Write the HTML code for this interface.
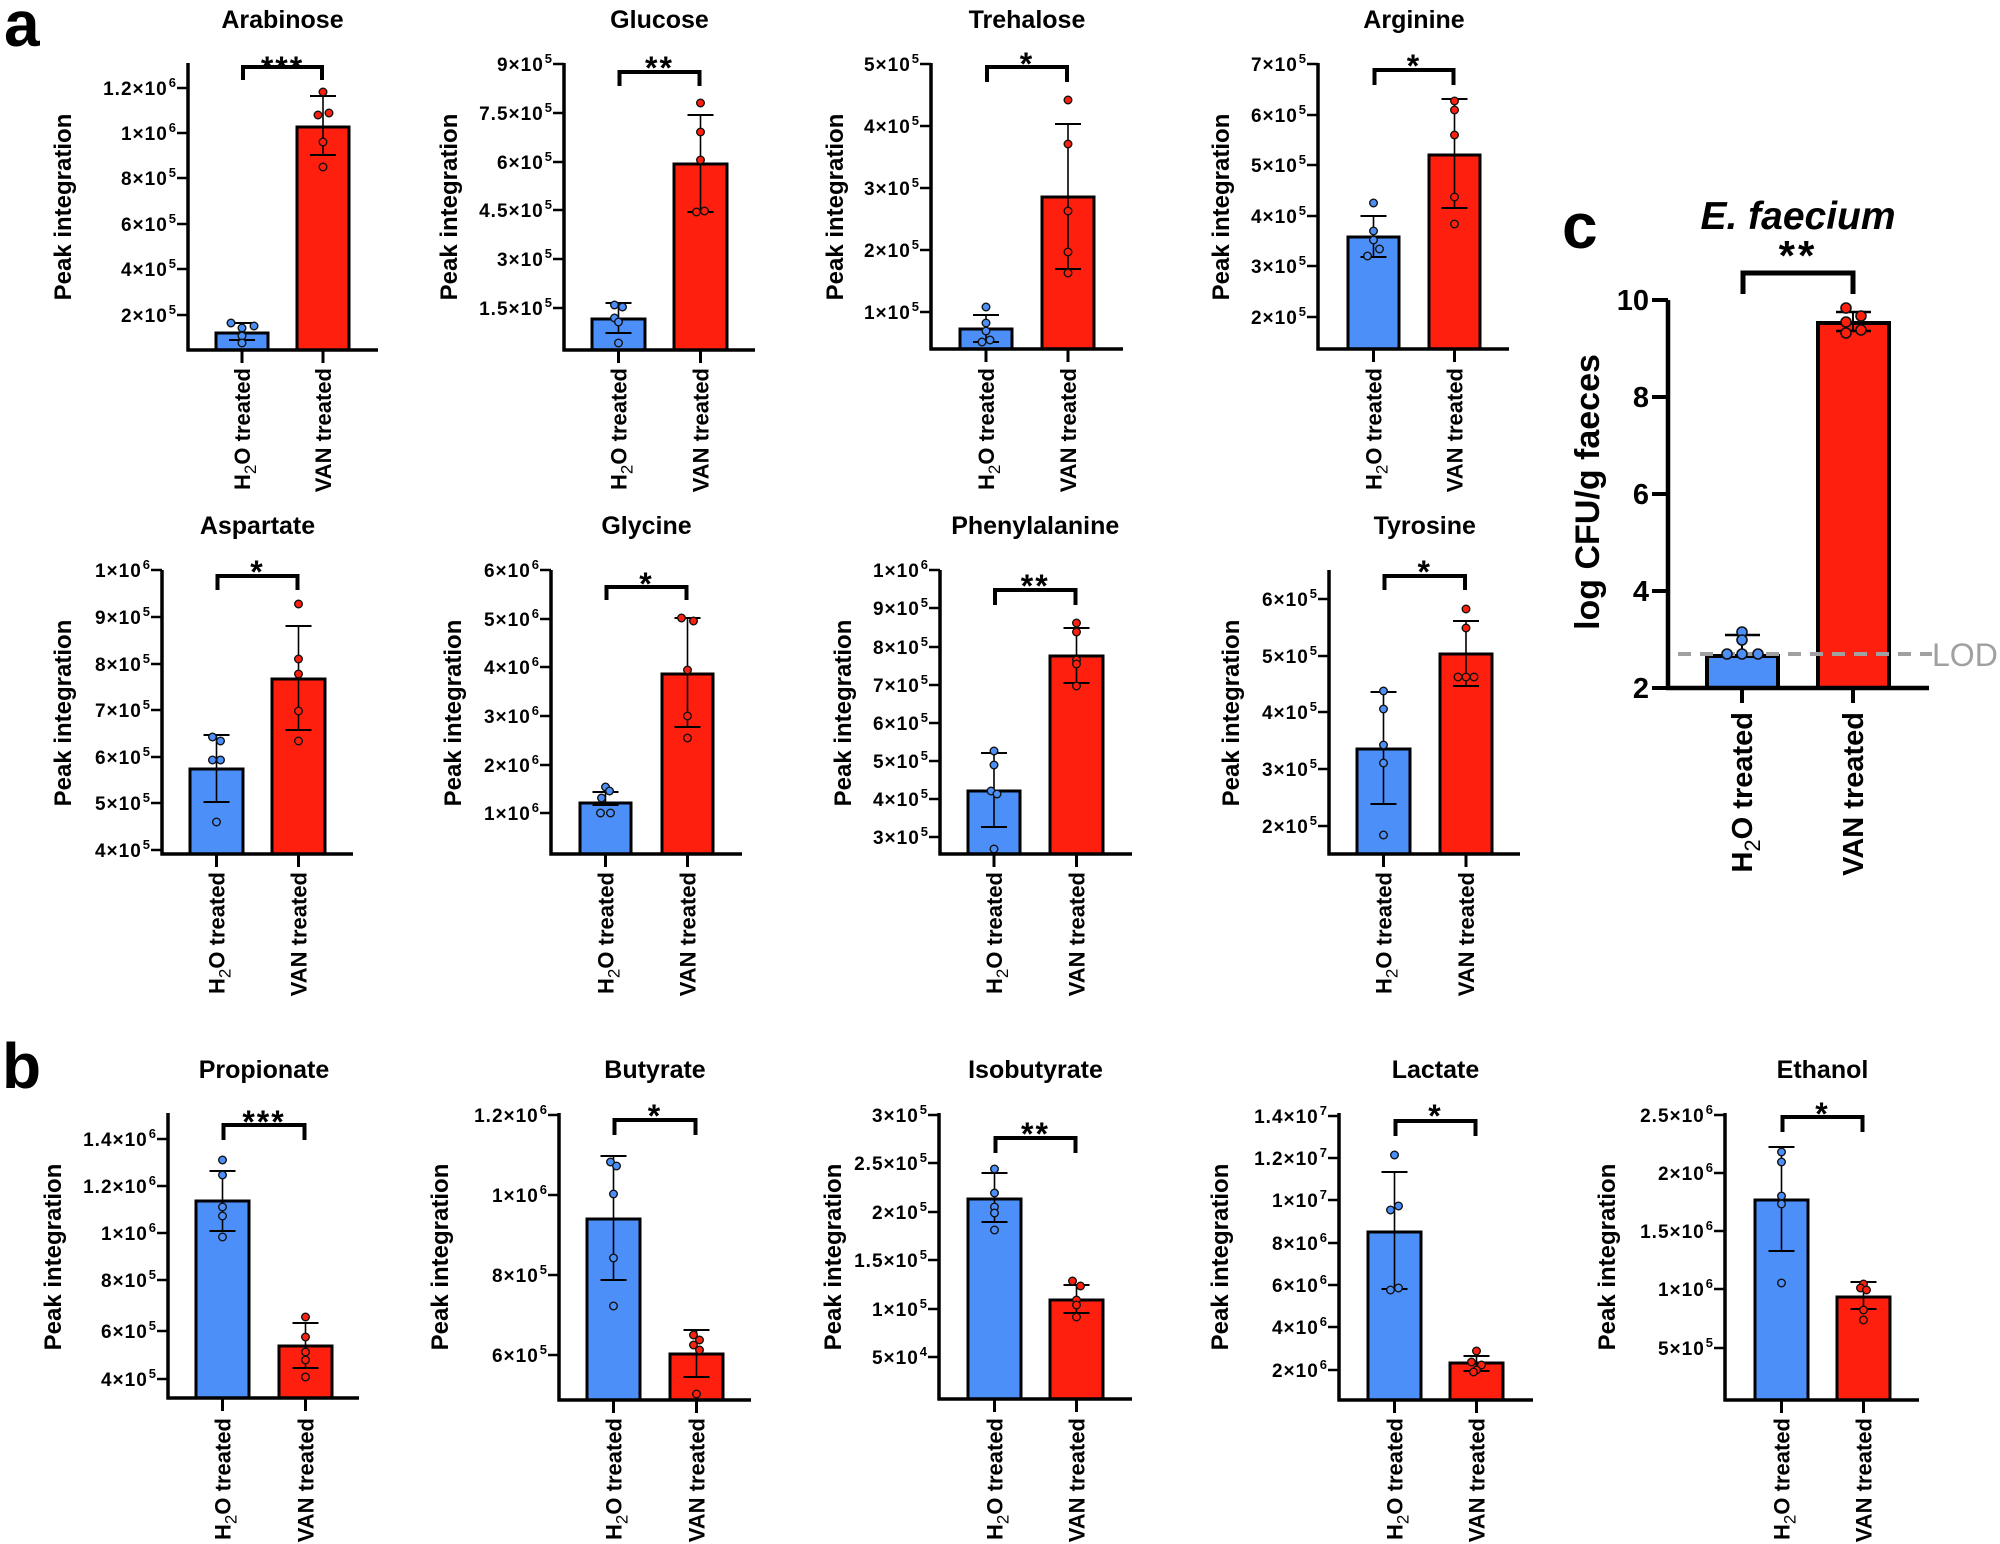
<!DOCTYPE html>
<html><head><meta charset="utf-8">
<style>
html,body{margin:0;padding:0;background:#fff;}
svg{display:block;}
text{font-family:"Liberation Sans",Arial,sans-serif;font-weight:bold;fill:#000;}
</style></head>
<body>
<svg id="s" xmlns="http://www.w3.org/2000/svg" width="2000" height="1544" viewBox="0 0 2000 1544">
<rect width="2000" height="1544" fill="#fff"/>
<text x="4" y="46" font-size="64">a</text>
<text x="2" y="1088" font-size="64">b</text>
<text x="1562" y="248" font-size="64">c</text>
</svg>
<script>
var S=document.getElementById('s'),NS='http://www.w3.org/2000/svg';
function el(t,a,txt){var e=document.createElementNS(NS,t);for(var k in a)e.setAttribute(k,a[k]);if(txt!=null)e.textContent=txt;S.appendChild(e);return e;}
var BLUE='#4d8ff8',RED='#ff1f0f';
var P=[
{t:'Arabinose',s:'***',ax:188,top:63,base:350,end:378,ty:28,sy:62,br:[67,80],ylx:62,yly:207,lt:368,
 tk:[[88,'1.2','6'],[133,'1','6'],[178,'8','5'],[224,'6','5'],[269,'4','5'],[315,'2','5']],
 b:[[216,268,333,323,340,[[-11,323],[12,326],[0,328],[0,336],[0,343]]],[297,349,127,96,155,[[0,92],[-5,115],[6,113],[0,142],[0,167]]]]},
{t:'Glucose',s:'**',ax:564,top:63,base:350,end:755,ty:28,sy:62,br:[72,86],ylx:448,yly:207,lt:368,
 tk:[[64,'9','5'],[113,'7.5','5'],[162,'6','5'],[210,'4.5','5'],[259,'3','5'],[308,'1.5','5']],
 b:[[592,645,319,303,333,[[-4,305],[4,307],[-4,318],[0,322],[0,343]]],[674,727,164,115,212,[[0,103],[0,132],[0,160],[-4,212],[4,211]]]]},
{t:'Trehalose',s:'*',ax:931,top:63,base:349,end:1123,ty:28,sy:58,br:[67,82],ylx:834,yly:207,lt:368,
 tk:[[64,'5','5'],[126,'4','5'],[188,'3','5'],[250,'2','5'],[312,'1','5']],
 b:[[960,1012,329,315,342,[[0,307],[0,323],[0,331],[-4,342],[4,340]]],[1042,1094,197,124,269,[[0,100],[0,144],[0,211],[0,252],[0,273]]]]},
{t:'Arginine',s:'*',ax:1318,top:63,base:349,end:1509,ty:28,sy:60,br:[70,85],ylx:1220,yly:207,lt:368,
 tk:[[64,'7','5'],[115,'6','5'],[165,'5','5'],[216,'4','5'],[266,'3','5'],[317,'2','5']],
 b:[[1348,1399,237,216,257,[[0,203],[0,231],[0,240],[-6,256],[6,249]]],[1429,1480,155,99,208,[[0,101],[0,110],[0,135],[0,197],[0,224]]]]},
{t:'Aspartate',s:'*',ax:162,top:570,base:854,end:353,ty:534,sy:566,br:[576,590],ylx:62,yly:713,lt:872,
 tk:[[570,'1','6'],[617,'9','5'],[664,'8','5'],[710,'7','5'],[757,'6','5'],[803,'5','5'],[850,'4','5']],
 b:[[190,243,769,735,802,[[-4,737],[4,741],[-4,760],[4,760],[0,822]]],[272,325,679,626,730,[[0,604],[0,659],[0,674],[0,711],[0,741]]]]},
{t:'Glycine',s:'*',ax:551,top:570,base:854,end:742,ty:534,sy:578,br:[587,600],ylx:452,yly:713,lt:872,
 tk:[[570,'6','6'],[619,'5','6'],[667,'4','6'],[716,'3','6'],[765,'2','6'],[813,'1','6']],
 b:[[580,631,803,792,805,[[0,787],[4,791],[-4,798],[-5,813],[5,813]]],[662,713,674,618,727,[[-6,618],[6,621],[0,670],[0,716],[0,738]]]]},
{t:'Phenylalanine',s:'**',ax:940,top:570,base:854,end:1132,ty:534,sy:580,br:[590,605],ylx:842,yly:713,lt:872,
 tk:[[570,'1','6'],[608,'9','5'],[647,'8','5'],[685,'7','5'],[723,'6','5'],[761,'5','5'],[799,'4','5'],[837,'3','5']],
 b:[[968,1020,791,753,827,[[0,751],[0,765],[-3,791],[3,794],[0,849]]],[1050,1103,656,628,683,[[0,623],[0,632],[0,660],[0,664],[0,686]]]]},
{t:'Tyrosine',s:'*',ax:1329,top:570,base:854,end:1520,ty:534,sy:566,br:[576,590],ylx:1230,yly:713,lt:872,
 tk:[[599,'6','5'],[656,'5','5'],[712,'4','5'],[769,'3','5'],[826,'2','5']],
 b:[[1357,1410,749,692,804,[[0,691],[0,709],[0,745],[0,763],[0,835]]],[1440,1492,654,621,686,[[0,609],[0,628],[-8,677],[0,677],[8,677]]]]},
{t:'Propionate',s:'***',ax:168,top:1113,base:1398,end:359,ty:1078,sy:1116,br:[1125,1140],ylx:52,yly:1257,lt:1418,
 tk:[[1139,'1.4','6'],[1186,'1.2','6'],[1233,'1','6'],[1280,'8','5'],[1331,'6','5'],[1379,'4','5']],
 b:[[196,249,1201,1171,1231,[[0,1160],[0,1175],[0,1207],[0,1216],[0,1237]]],[279,332,1346,1323,1368,[[0,1317],[0,1337],[0,1352],[0,1360],[0,1377]]]]},
{t:'Butyrate',s:'*',ax:559,top:1113,base:1400,end:751,ty:1078,sy:1110,br:[1120,1135],ylx:439,yly:1257,lt:1418,
 tk:[[1115,'1.2','6'],[1195,'1','6'],[1275,'8','5'],[1355,'6','5']],
 b:[[587,640,1219,1156,1280,[[-3,1162],[3,1166],[0,1194],[0,1258],[0,1306]]],[670,723,1354,1330,1377,[[-3,1335],[3,1340],[-3,1345],[3,1350],[0,1394]]]]},
{t:'Isobutyrate',s:'**',ax:939,top:1113,base:1399,end:1132,ty:1078,sy:1128,br:[1138,1153],ylx:832,yly:1257,lt:1418,
 tk:[[1115,'3','5'],[1163,'2.5','5'],[1212,'2','5'],[1260,'1.5','5'],[1309,'1','5'],[1357,'5','4']],
 b:[[968,1021,1199,1173,1222,[[0,1169],[0,1193],[0,1207],[0,1213],[0,1230]]],[1050,1103,1300,1285,1313,[[-4,1281],[4,1286],[0,1300],[0,1305],[0,1317]]]]},
{t:'Lactate',s:'*',ax:1339,top:1113,base:1400,end:1533,ty:1078,sy:1110,br:[1121,1136],ylx:1219,yly:1257,lt:1418,
 tk:[[1116,'1.4','7'],[1158,'1.2','7'],[1200,'1','7'],[1243,'8','6'],[1285,'6','6'],[1327,'4','6'],[1370,'2','6']],
 b:[[1368,1421,1232,1172,1289,[[0,1155],[-4,1210],[4,1206],[-4,1290],[4,1288]]],[1450,1503,1363,1356,1371,[[0,1351],[-5,1362],[5,1365],[0,1370],[-3,1372]]]]},
{t:'Ethanol',s:'*',ax:1725,top:1113,base:1400,end:1919,ty:1078,sy:1108,br:[1117,1132],ylx:1606,yly:1257,lt:1418,
 tk:[[1115,'2.5','6'],[1173,'2','6'],[1231,'1.5','6'],[1289,'1','6'],[1348,'5','5']],
 b:[[1755,1808,1200,1147,1251,[[0,1152],[0,1162],[0,1196],[0,1204],[0,1283]]],[1837,1890,1297,1282,1309,[[0,1284],[-3,1288],[3,1290],[0,1310],[0,1320]]]]}
];
P.forEach(function(p){
  var c0=(p.b[0][0]+p.b[0][1])/2,c1=(p.b[1][0]+p.b[1][1])/2,mid=(c0+c1)/2;
  el('text',{x:mid,y:p.ty,'font-size':25,'text-anchor':'middle'},p.t);
  el('text',{x:mid,y:p.sy+17,'font-size':32,'text-anchor':'middle','letter-spacing':'2'},p.s);
  el('path',{d:'M'+(c0+1)+' '+p.br[1]+'V'+p.br[0]+'H'+(c1-1)+'V'+p.br[1],fill:'none',stroke:'#000','stroke-width':4});
  el('text',{transform:'translate('+(p.ylx+9)+','+p.yly+') rotate(-90)','font-size':24,'text-anchor':'middle'},'Peak integration');
  p.tk.forEach(function(t){
    el('line',{x1:p.ax-11,x2:p.ax,y1:t[0],y2:t[0],stroke:'#000','stroke-width':2.5});
    var tx=el('text',{x:p.ax-11,y:t[0]+7,'font-size':19,'text-anchor':'end','letter-spacing':'1'});
    tx.innerHTML=t[1]+'×10<tspan dx="1" dy="-8" font-size="13">'+t[2]+'</tspan>';
  });
  p.b.forEach(function(b,i){
    var c=(b[0]+b[1])/2,col=i?RED:BLUE;
    el('rect',{x:b[0],y:b[2],width:b[1]-b[0],height:p.base-b[2],fill:col,stroke:'#000','stroke-width':3});
    el('line',{x1:c,x2:c,y1:b[3],y2:b[4],stroke:'#000','stroke-width':1.6});
    el('line',{x1:c-13,x2:c+13,y1:b[3],y2:b[3],stroke:'#000','stroke-width':2});
    el('line',{x1:c-13,x2:c+13,y1:b[4],y2:b[4],stroke:'#000','stroke-width':2});
    b[5].forEach(function(q){el('circle',{cx:c+q[0],cy:q[1],r:3.8,fill:col,stroke:'#111','stroke-width':1.4});});
    el('line',{x1:c,x2:c,y1:p.base,y2:p.base+13,stroke:'#000','stroke-width':3});
    var lb=el('text',{transform:'translate('+(c+8)+','+p.lt+') rotate(-90)','font-size':22,'text-anchor':'end'});
    lb.innerHTML=i?'VAN treated':'H<tspan dy="6" font-size="17" font-weight="normal">2</tspan><tspan dy="-6">O treated</tspan>';
  });
  el('line',{x1:p.ax,x2:p.ax,y1:p.top,y2:p.base+1.5,stroke:'#000','stroke-width':3.5});
  el('line',{x1:p.ax-1.5,x2:p.end,y1:p.base,y2:p.base,stroke:'#000','stroke-width':3.5});
});
// Panel c
(function(){
  var ax=1668,base=688;
  el('text',{x:1798,y:229,'font-size':39,'text-anchor':'middle','font-style':'italic'},'E. faecium');
  el('text',{x:1798,y:270,'font-size':42,'text-anchor':'middle','letter-spacing':'3'},'**');
  el('path',{d:'M1743 294V273H1853V294',fill:'none',stroke:'#000','stroke-width':5});
  el('text',{transform:'translate(1599,492) rotate(-90)','font-size':34,'text-anchor':'middle'},'log CFU/g faeces');
  [[300,'10'],[397,'8'],[494,'6'],[591,'4'],[688,'2']].forEach(function(t){
    el('line',{x1:ax-16,x2:ax,y1:t[0],y2:t[0],stroke:'#000','stroke-width':4});
    el('text',{x:ax-19,y:t[0]+10,'font-size':29,'text-anchor':'end'},t[1]);
  });
  el('rect',{x:1707,y:656,width:71,height:base-656,fill:BLUE,stroke:'#000','stroke-width':4});
  el('rect',{x:1818,y:323,width:71,height:base-323,fill:RED,stroke:'#000','stroke-width':4});
  el('line',{x1:1678,x2:1932,y1:654,y2:654,stroke:'#a0a0a0','stroke-width':4,'stroke-dasharray':'13 9'});
  el('text',{x:1932,y:666,'font-size':32,style:'font-weight:normal;fill:#a0a0a0'},'LOD');
  el('line',{x1:1742,x2:1742,y1:635,y2:656,stroke:'#000','stroke-width':2});
  el('line',{x1:1725,x2:1760,y1:635,y2:635,stroke:'#000','stroke-width':2.5});
  [[1742,632],[1742,640],[1727,654],[1742,654],[1758,654]].forEach(function(q){el('circle',{cx:q[0],cy:q[1],r:5,fill:BLUE,stroke:'#111','stroke-width':1.6});});
  el('line',{x1:1853,x2:1853,y1:312,y2:331,stroke:'#000','stroke-width':2});
  el('line',{x1:1836,x2:1871,y1:312,y2:312,stroke:'#000','stroke-width':2.5});
  el('line',{x1:1836,x2:1871,y1:331,y2:331,stroke:'#000','stroke-width':2.5});
  [[1846,308],[1861,316],[1846,322],[1846,333],[1861,330]].forEach(function(q){el('circle',{cx:q[0],cy:q[1],r:5,fill:RED,stroke:'#111','stroke-width':1.6});});
  el('line',{x1:ax,x2:ax,y1:300,y2:base+2,stroke:'#000','stroke-width':4.5});
  el('line',{x1:ax-2,x2:1929,y1:base,y2:base,stroke:'#000','stroke-width':4.5});
  [1742,1853].forEach(function(c,i){
    el('line',{x1:c,x2:c,y1:base,y2:703,stroke:'#000','stroke-width':4});
    var lb=el('text',{transform:'translate('+(c+10)+',712) rotate(-90)','font-size':29,'text-anchor':'end'});
    lb.innerHTML=i?'VAN treated':'H<tspan dy="8" font-size="22" font-weight="normal">2</tspan><tspan dy="-8">O treated</tspan>';
  });
})();
</script>
</body></html>
